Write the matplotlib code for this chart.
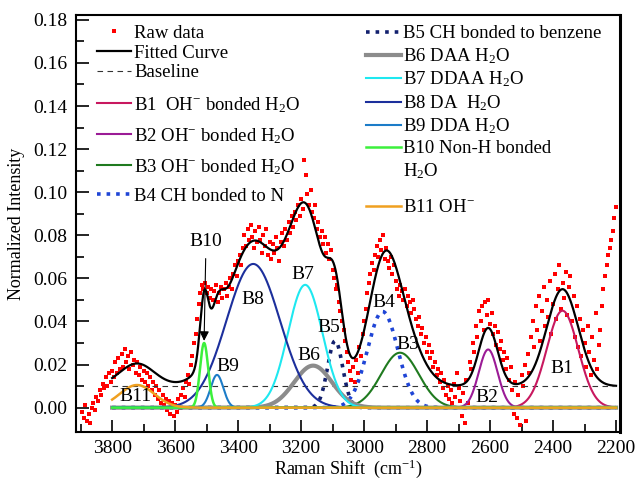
import numpy as np
import matplotlib
matplotlib.use("Agg")
import matplotlib.pyplot as plt
from matplotlib.lines import Line2D

plt.rcParams["font.family"] = ["Liberation Serif", "DejaVu Serif"]
plt.rcParams["mathtext.fontset"] = "custom"
plt.rcParams["mathtext.rm"] = "Liberation Serif"
plt.rcParams["mathtext.it"] = "Liberation Serif:italic"
plt.rcParams["mathtext.default"] = "regular"

# raw spectrum, x descends from 3895 to 2200 in steps of 5 cm-1
raw_x = np.arange(3895, 2199, -5)
raw_y = [
    -0.002, -0.005, 0.001, -0.006, -0.003, -0.007, 0.000, 0.002, -0.001, 0.005, 0.003, 0.008, 0.006, 0.011, 0.009, 0.014, 0.010, 0.016, 0.012, 0.017,
    0.014, 0.021, 0.016, 0.023, 0.018, 0.025, 0.019, 0.027, 0.021, 0.024, 0.018, 0.026, 0.020, 0.022, 0.016, 0.021, 0.015, 0.019, 0.013, 0.017,
    0.012, 0.016, 0.010, 0.014, 0.008, 0.012, 0.006, 0.010, 0.004, 0.008, 0.002, 0.006, 0.001, 0.004, -0.001, 0.003, -0.003, 0.002, -0.004, 0.001,
    -0.002, 0.004, 0.000, 0.006, 0.009, 0.005, 0.012, 0.015, 0.011, 0.020, 0.024, 0.030, 0.034, 0.041, 0.048, 0.053, 0.057, 0.055, 0.058, 0.053,
    0.056, 0.051, 0.055, 0.050, 0.054, 0.057, 0.049, 0.053, 0.056, 0.051, 0.055, 0.058, 0.052, 0.056, 0.060, 0.055, 0.062, 0.066, 0.061, 0.068,
    0.071, 0.066, 0.074, 0.080, 0.075, 0.083, 0.078, 0.085, 0.079, 0.074, 0.082, 0.077, 0.084, 0.078, 0.072, 0.080, 0.075, 0.083, 0.071, 0.077,
    0.069, 0.076, 0.072, 0.079, 0.074, 0.068, 0.077, 0.081, 0.075, 0.083, 0.078, 0.086, 0.081, 0.089, 0.084, 0.091, 0.087, 0.094, 0.089, 0.097,
    0.092, 0.115, 0.108, 0.099, 0.094, 0.101, 0.091, 0.088, 0.094, 0.083, 0.086, 0.079, 0.082, 0.076, 0.079, 0.072, 0.076, 0.069, 0.073, 0.064,
    0.060, 0.055, 0.057, 0.049, 0.045, 0.040, 0.036, 0.031, 0.026, 0.021, 0.017, 0.013, 0.019, 0.012, 0.022, 0.016, 0.028, 0.024, 0.034, 0.040,
    0.046, 0.053, 0.058, 0.062, 0.067, 0.064, 0.071, 0.075, 0.070, 0.078, 0.073, 0.080, 0.069, 0.074, 0.068, 0.065, 0.070, 0.062, 0.066, 0.059,
    0.055, 0.052, 0.057, 0.054, 0.050, 0.055, 0.047, 0.052, 0.049, 0.044, 0.050, 0.046, 0.041, 0.038, 0.042, 0.034, 0.037, 0.030, 0.033, 0.026,
    0.029, 0.023, 0.026, 0.019, 0.021, 0.015, 0.018, 0.012, 0.016, 0.009, 0.013, 0.006, 0.010, 0.004, 0.008, 0.002, 0.011, 0.005, 0.016, 0.009,
    0.003, -0.004, 0.007, -0.007, 0.013, 0.002, 0.021, 0.018, 0.030, 0.026, 0.038, 0.033, 0.045, 0.040, 0.047, 0.036, 0.049, 0.043, 0.050, 0.039,
    0.044, 0.034, 0.038, 0.029, 0.035, 0.027, 0.031, 0.022, 0.026, 0.018, 0.023, 0.013, 0.019, 0.008, -0.003, 0.012, -0.005, 0.006, -0.008, 0.015,
    0.010, 0.020, -0.006, 0.025, 0.016, 0.033, 0.040, 0.028, 0.047, 0.036, 0.052, 0.031, 0.045, 0.056, 0.038, 0.050, 0.042, 0.059, 0.034, 0.048,
    0.062, 0.041, 0.055, 0.066, 0.046, 0.058, 0.051, 0.063, 0.043, 0.056, 0.061, 0.040, 0.052, 0.033, 0.047, 0.028, 0.041, 0.024, 0.036, 0.030,
    0.019, 0.038, 0.026, 0.015, 0.033, 0.022, 0.044, 0.018, 0.029, 0.036, 0.047, 0.055, 0.061, 0.066, 0.071, 0.074, 0.078, 0.082, 0.088, 0.093,
]

# fitted Gaussian bands: centre (cm-1), height, sigma (cm-1)
band_names = ["B1", "B2", "B3", "B4", "B5", "B6", "B7", "B8", "B9", "B10", "B11"]
band_centers = [2370, 2606, 2886, 2941, 3092, 3162, 3187, 3352, 3467, 3508, 3721]
band_heights = [0.045, 0.027, 0.0255, 0.0446, 0.031, 0.0195, 0.057, 0.0667, 0.0152, 0.030, 0.0105]
band_sigmas = [50, 30, 60, 48, 24, 60, 55, 85, 20, 13, 55]
band_labels = [
    "B1  OH$^{-}$ bonded H$_2$O",
    "B2 OH$^{-}$ bonded H$_2$O",
    "B3 OH$^{-}$ bonded H$_2$O",
    "B4 CH bonded to N",
    "B5 CH bonded to benzene",
    "B6 DAA H$_2$O",
    "B7 DDAA H$_2$O",
    "B8 DA  H$_2$O",
    "B9 DDA H$_2$O",
    "B10 Non-H bonded",
    "B11 OH$^{-}$",
]
band_colors = ["#c8185f", "#9b1b96", "#1f7a1f", "#1f45d6", "#12206e", "#8c8c8c",
               "#1ee8f0", "#1c2f9c", "#1c7cc8", "#3cf03c", "#f0a020"]
band_styles = ["-", "-", "-", ":", ":", "-", "-", "-", "-", "-", "-"]
band_widths = [1.5, 1.5, 1.5, 2.6, 2.6, 3.0, 1.5, 1.5, 1.5, 1.8, 1.8]

baseline_level = 0.01
fit_range = (3800, 2200)

# text labels on the bands (x, y in data units)
label_pos = {
    "B1": (2371, 0.018), "B2": (2610, 0.0045), "B3": (2860, 0.0295),
    "B4": (2937, 0.049), "B5": (3111, 0.0374), "B6": (3175, 0.024),
    "B7": (3194, 0.062), "B8": (3352, 0.050), "B9": (3432, 0.019),
    "B11": (3727, 0.005),
}

fs = 13.5

fig = plt.figure(figsize=(6.38, 4.80), dpi=100)
ax = fig.add_axes([0.119, 0.1, 0.853, 0.869])

xs = np.linspace(fit_range[0], fit_range[1], 1601)
components = []
for c, h, s in zip(band_centers, band_heights, band_sigmas):
    components.append(h * np.exp(-(xs - c) ** 2 / (2 * s ** 2)))
fitted = baseline_level + np.sum(components, axis=0)

raw_h, = ax.plot(raw_x, raw_y, "s", color="red", ms=2.4, mew=0, label="Raw data")
fit_h, = ax.plot(xs, fitted, color="black", lw=1.6, label="Fitted Curve")
base_h, = ax.plot(fit_range, [baseline_level, baseline_level], "--", color="#333333",
                  lw=0.8, dashes=(5, 4), label="Baseline")

band_handles = []
for comp, lab, col, ls, lw in zip(components, band_labels, band_colors, band_styles, band_widths):
    hnd, = ax.plot(xs, comp, ls, color=col, lw=lw, label=lab)
    band_handles.append(hnd)

for name, (lx, ly) in label_pos.items():
    ax.text(lx, ly, name, ha="center", va="center", fontsize=14)

ax.annotate("B10", xy=(3508, 0.031), xytext=(3502, 0.077), ha="center", va="center",
            fontsize=14,
            arrowprops=dict(arrowstyle="-|>", color="black", lw=0.8, shrinkA=4, shrinkB=0))

ax.set_xlim(3915, 2187)
ax.set_ylim(-0.0113, 0.1823)
ax.set_xticks([3800, 3600, 3400, 3200, 3000, 2800, 2600, 2400, 2200])
ax.set_xticks(np.arange(3900, 2199, -100), minor=True)
ax.set_yticks(np.arange(0, 0.181, 0.02))
ax.set_yticks(np.arange(0.01, 0.181, 0.02), minor=True)
ax.yaxis.set_major_formatter(matplotlib.ticker.FormatStrFormatter("%.2f"))
ax.tick_params(which="major", direction="in", length=9, width=1.2, labelsize=14, pad=6)
ax.tick_params(which="minor", direction="in", length=5.5, width=1.2)
for sp in ax.spines.values():
    sp.set_linewidth(1.5)
ax.spines["right"].set_linewidth(2.2)

ax.set_xlabel("Raman Shift  (cm$^{-1}$)", fontsize=13, labelpad=0)
ax.set_ylabel("Normalized Intensity", fontsize=13)
ax.yaxis.set_label_coords(-0.094, 0.5)

leg_kw = dict(loc="upper left", frameon=False, fontsize=fs, borderpad=0, borderaxespad=0,
              handlelength=1.85, handletextpad=0.15)

# left column: first group (plain text rows), second group (bands B1-B4)
leg1 = ax.legend(handles=[raw_h, fit_h, base_h], bbox_to_anchor=(0.038, 0.977),
                 labelspacing=0.15, numpoints=1, markerscale=1.2, **leg_kw)
ax.add_artist(leg1)
leg2 = ax.legend(handles=band_handles[:4], bbox_to_anchor=(0.038, 0.808),
                 labelspacing=0.6, **leg_kw)
ax.add_artist(leg2)

# right column: B5-B10 (with wrapped B10 label), then B11 a little lower
blank = Line2D([], [], color="none")
right_handles = band_handles[4:10] + [blank]
right_labels = band_labels[4:10] + ["H$_2$O"]
leg3 = ax.legend(handles=right_handles, labels=right_labels, bbox_to_anchor=(0.533, 0.975),
                 labelspacing=0.2, **leg_kw)
ax.add_artist(leg3)
ax.legend(handles=[band_handles[10]], labels=[band_labels[10]],
          bbox_to_anchor=(0.533, 0.558), **leg_kw)

fig.savefig("out.png", dpi=100)
